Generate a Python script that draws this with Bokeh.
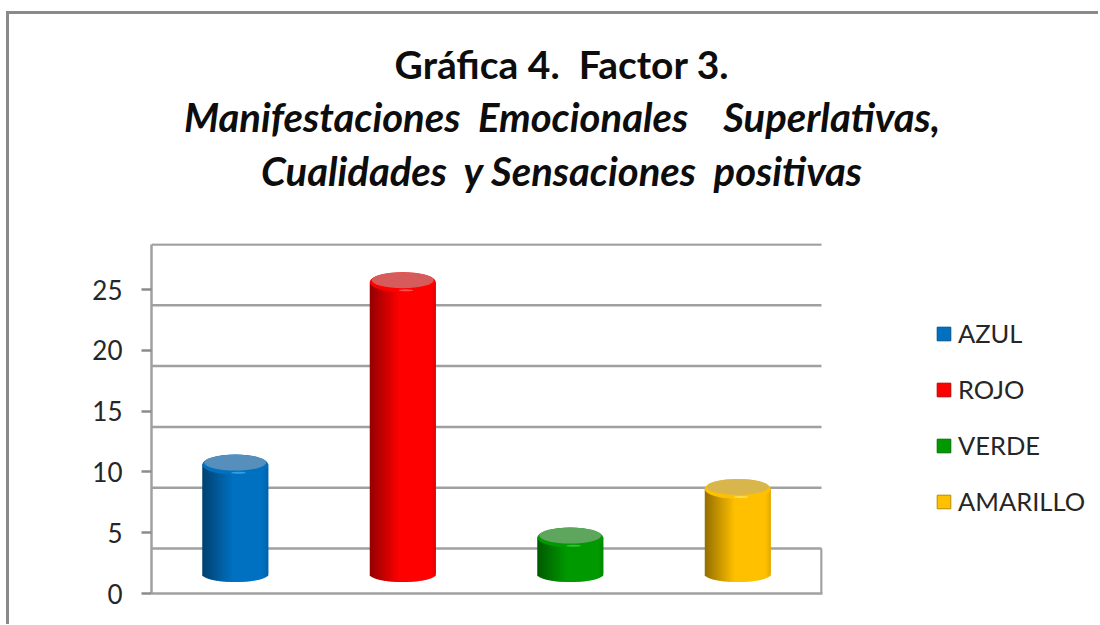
import math
from bokeh.plotting import figure
from bokeh.layouts import column, row
from bokeh.models import Range1d, Legend, LegendItem, FixedTicker
from bokeh.core.properties import value
from bokeh.embed import file_html
from bokeh.resources import INLINE

categories = ["AZUL", "ROJO", "VERDE", "AMARILLO"]
values = [9, 24, 3, 7]
colors = ["#0070c0", "#ff0000", "#009a00", "#ffc000"]
face_colors = ["#568fbb", "#d65c5c", "#5ea65e", "#d8b64c"]
glint_colors = ["#2f9fe8", "#ff5050", "#30c030", "#ffdc50"]
y_ticks = [0, 5, 10, 15, 20, 25]
NB = "\u00a0"
title_lines = ["Gráfica 4. " + NB + "Factor 3.",
               "Manifestaciones " + NB + "Emocionales " + NB * 3 + "Superlativas,",
               "Cualidades " + NB + "y Sensaciones " + NB + "positivas"]
title_styles = ["bold", "bold italic", "bold italic"]
title_sizes = ["39px", "40px", "40px"]
title_y = [63, 116, 170]

PX_Y = 12.16            # pixels per unit on the value axis
PX_X = 167.5            # pixels per category
DEPTH = 45 / PX_Y       # back wall offset
BASE = (593 - 573.5) / PX_Y
GRID = "#a0a0a0"
TEXT = "#262626"
FONT = "Lato"

OX, OY = 9, 14          # canvas origin in the page
W, H = 1089, 610
TITLE_H = 228
MAIN_W = 815
MAIN_H = H - TITLE_H

# ---- title strip: its data space is the page's pixel space
tp = figure(width=W, height=TITLE_H, output_backend="svg", toolbar_location=None,
            x_range=Range1d(OX, OX + W), y_range=Range1d(OY + TITLE_H, OY),
            x_axis_location=None, y_axis_location=None,
            min_border=0, outline_line_color=None, background_fill_color="white")
tp.grid.visible = False
for line, y, style, size in zip(title_lines, title_y, title_styles, title_sizes):
    tp.text(x=[561.5], y=[y], text=[line], text_align="center", text_baseline="middle",
            text_font=value(FONT), text_font_size=value(size), text_font_style=style,
            text_color="#0d0d0d")

# ---- main plot
left, right, top, bottom = 151 - OX, 2, 1, OY + H - 593
x_end = (MAIN_W - left - right) / PX_X
y_end = (MAIN_H - top - bottom) / PX_Y

p = figure(width=MAIN_W, height=MAIN_H, output_backend="svg", toolbar_location=None,
           x_range=Range1d(0, x_end), y_range=Range1d(0, y_end),
           min_border_left=left, min_border_right=right,
           min_border_top=top, min_border_bottom=bottom,
           background_fill_color="white", border_fill_color="white",
           outline_line_color=None)
p.grid.visible = False

ax = p.yaxis[0]
ax.ticker = FixedTicker(ticks=y_ticks)
ax.bounds = (0, 25 + DEPTH)
ax.axis_line_color = GRID
ax.axis_line_width = 2.5
ax.major_tick_line_color = "#8c8c8c"
ax.major_tick_line_width = 2.5
ax.major_tick_out = 10
ax.major_tick_in = 0
ax.minor_tick_line_color = None
ax.major_label_standoff = 19
ax.major_label_text_font = FONT
ax.major_label_text_font_size = "26px"
ax.major_label_text_color = TEXT

bx = p.xaxis[0]
bx.ticker = FixedTicker(ticks=[])
bx.axis_line_color = GRID
bx.axis_line_width = 2.5
bx.major_tick_line_color = None
bx.minor_tick_line_color = None

# back wall
p.segment(x0=[0] * len(y_ticks), x1=[4] * len(y_ticks),
          y0=[t + DEPTH for t in y_ticks], y1=[t + DEPTH for t in y_ticks],
          line_color=GRID, line_width=2.5)
p.segment(x0=[4], x1=[4], y0=[0], y1=[DEPTH], line_color=GRID, line_width=2.5)


def shade(color, t):
    r, g, b = (int(color[i:i + 2], 16) for i in (1, 3, 5))
    if t < -0.1:
        k = 0.58 + 0.42 * (t + 1) / 0.9
    elif t > 0.85:
        k = 1 - 0.12 * (t - 0.85) / 0.15
    else:
        k = 1
    return "#%02x%02x%02x" % (int(r * k), int(g * k), int(b * k))


BAR_PX = 66
STRIPS = 66
half_w = BAR_PX / 2 / PX_X
rb = 8 / PX_Y
rt = 10 / PX_Y
for i, (name, v, c, fc, gc) in enumerate(zip(categories, values, colors, face_colors, glint_colors)):
    cx = i + 0.5
    ys = BASE
    ye = BASE + v
    l, r, b, t_, col = [], [], [], [], []
    for s in range(STRIPS):
        t0 = -1 + 2 * s / STRIPS
        t1 = -1 + 2 * min(s + 2, STRIPS) / STRIPS   # overlaps the next strip, so no seams show
        tm = -1 + (2 * s + 1) / STRIPS
        tq = -1 + 2 * (s + 1) / STRIPS
        q = math.sqrt(max(0, 1 - tq * tq))
        l.append(cx + t0 * half_w)
        r.append(cx + t1 * half_w)
        b.append(ys - rb * q)
        t_.append(ye)
        col.append(shade(c, tm))
    p.quad(left=l, right=r, bottom=b, top=t_, fill_color=col, line_color=None, fill_alpha=1)
    p.ellipse(x=[cx], y=[ye], width=[2 * half_w], height=[2 * rt],
              fill_color=shade(c, -0.05), line_color=None, fill_alpha=1)
    p.ellipse(x=[cx], y=[ye + 2 / PX_Y], width=[2 * half_w * 0.94], height=[2 * rt * 0.8],
              fill_color=fc, line_color=None, fill_alpha=1)
    p.ellipse(x=[cx + 0.1 * half_w], y=[ye - rt * 0.82], width=[2 * half_w * 0.22], height=[2 / PX_Y],
              fill_color=gc, line_color=None, fill_alpha=1)

# ---- legend strip
lp = figure(width=W - MAIN_W, height=MAIN_H, output_backend="svg", toolbar_location=None,
            x_range=Range1d(0, 1), y_range=Range1d(0, 1),
            x_axis_location=None, y_axis_location=None,
            min_border=0, outline_line_color=None, background_fill_color="white")
lp.grid.visible = False
items = []
for name, c in zip(categories, colors):
    swatch = lp.quad(left=[0], right=[0], bottom=[0], top=[0], fill_color=c,
                     line_color=shade(c, -0.7), line_width=1, fill_alpha=1)
    items.append(LegendItem(label=name, renderers=[swatch]))
legend = Legend(items=items, location=(111, 76), orientation="vertical",
                background_fill_alpha=0, border_line_color=None,
                margin=0, padding=0, spacing=24,
                glyph_width=17, glyph_height=17, label_standoff=6,
                label_text_font=FONT, label_text_font_size="25.5px",
                label_text_color=TEXT, label_height=32)
lp.add_layout(legend, "center")

page = column(tp, row(p, lp, spacing=0), spacing=0,
              styles={"border-left": "3px solid #8a8a8a", "border-top": "3px solid #8a8a8a",
                      "margin-left": "6px", "margin-top": "11px"})

open("out.html", "w").write(file_html(page, INLINE))
